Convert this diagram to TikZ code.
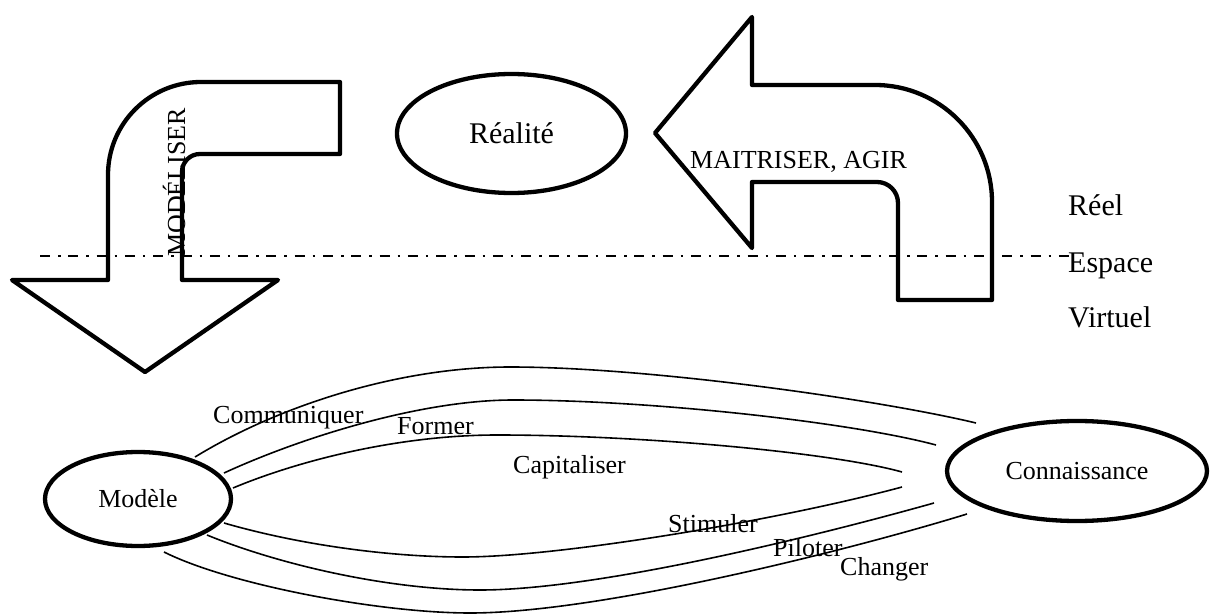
\documentclass[tikz,border=0pt]{standalone}
\usepackage{fontspec}
\setmainfont{Liberation Serif}
\usetikzlibrary{shapes.geometric}
\begin{document}
\begin{tikzpicture}[x=1pt,y=-1pt,
  bigshape/.style={draw=black,line width=4.3pt,line join=round},
  bubble/.style={ellipse,draw=black,line width=4.3pt,inner sep=0pt},
  link/.style={draw=black,line width=1.6pt},
  lbl/.style={inner sep=0pt,font=\fontsize{26}{30}\selectfont},
  biglbl/.style={inner sep=0pt,font=\fontsize{30}{34}\selectfont},
  border/.style={line width=2.2pt,dash pattern=on 10pt off 8pt on 2.5pt off 7.8pt}]
\useasboundingbox (0,0) rectangle (1211,615);

% boundary between real and virtual space
\coordinate (bl) at (40,256);
\coordinate (br) at (1070,256);
\draw[border] (bl) -- (br);
\node[biglbl,anchor=base west] (reel) at (1068,215) {Réel};
\node[biglbl,anchor=base west] (espace) at (1068,272) {Espace};
\node[biglbl,anchor=base west] (virtuel) at (1068,327) {Virtuel};

% bent arrow going down: modelling
\draw[bigshape] (340,82) -- (201,82)
  .. controls (149.6,82) and (108,123.6) .. (108,175)
  -- (108,280) -- (12,280) -- (145,372) -- (278,280) -- (182,280) -- (182,172)
  .. controls (182,162) and (190,154) .. (200,154) -- (340,154) -- cycle;
\node[lbl,rotate=90,anchor=base west] (modeliser) at (185,257) {MODÉLISER};

% bent arrow going back up: acting on reality
\draw[bigshape] (752,85) -- (875,85)
  .. controls (939.6,85) and (992,137.4) .. (992,202)
  -- (992,300) -- (898,300) -- (898,203)
  .. controls (898,191.4) and (888.6,182) .. (877,182)
  -- (752,182) -- (752,248) -- (655,133) -- (752,17) -- cycle;
\node[lbl,anchor=base west] (agir) at (690,168) {MAITRISER, AGIR};

% main entities
\node[bubble,biglbl,minimum width=229pt,minimum height=119pt] (realite) at (511.5,133.5) {Réalité};
\node[bubble,lbl,minimum width=186pt,minimum height=94pt] (modele) at (138,499) {Modèle};
\node[bubble,lbl,minimum width=260pt,minimum height=100pt] (connaissance) at (1077,471) {Connaissance};

% link end points
\coordinate (m1) at (195,457);
\coordinate (m2) at (224,473);
\coordinate (m3) at (233,488);
\coordinate (m4) at (224,523);
\coordinate (m5) at (207,535);
\coordinate (m6) at (164,552);
\coordinate (k1) at (976,423);
\coordinate (k2) at (936,445);
\coordinate (k3) at (902,472);
\coordinate (k4) at (902,487);
\coordinate (k5) at (934,503);
\coordinate (k6) at (967,514);

% links between model and knowledge
\draw[link] (m1) .. controls (280,405) and (400,367) .. (510,367)
  .. controls (650,367) and (880,400) .. (k1);
\draw[link] (m2) .. controls (300,438) and (420,400) .. (513,400)
  .. controls (650,400) and (850,422) .. (k2);
\draw[link] (m3) .. controls (300,460) and (400,435) .. (497,435)
  .. controls (640,435) and (830,452) .. (k3);
\draw[link] (m4) .. controls (300,545) and (390,557) .. (463,557)
  .. controls (560,557) and (780,520) .. (k4);
\draw[link] (m5) .. controls (280,565) and (390,590) .. (480,590)
  .. controls (600,590) and (820,535) .. (k5);
\draw[link] (m6) .. controls (230,585) and (380,613) .. (470,613)
  .. controls (600,613) and (850,550) .. (k6);

\node[lbl,anchor=base west] (communiquer) at (213,423) {Communiquer};
\node[lbl,anchor=base west] (former) at (397,434) {Former};
\node[lbl,anchor=base west] (capitaliser) at (513,473) {Capitaliser};
\node[lbl,anchor=base west] (stimuler) at (668,532) {Stimuler};
\node[lbl,anchor=base west] (piloter) at (773,556) {Piloter};
\node[lbl,anchor=base west] (changer) at (840,575) {Changer};
\end{tikzpicture}
\end{document}
